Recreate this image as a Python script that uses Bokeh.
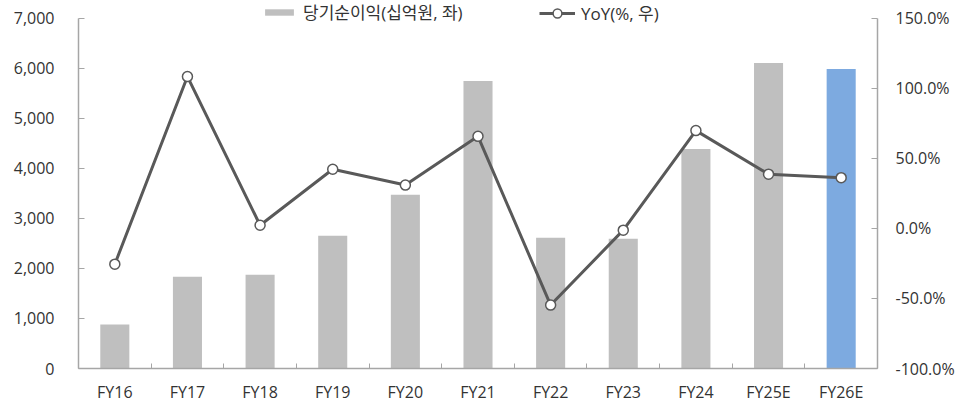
from bokeh.plotting import figure
from bokeh.models import (Range1d, LinearAxis, FixedTicker, NumeralTickFormatter,
                          PrintfTickFormatter, Legend, LegendItem, ColumnDataSource)
from bokeh.embed import file_html
from bokeh.resources import INLINE

categories = ["FY16", "FY17", "FY18", "FY19", "FY20", "FY21", "FY22", "FY23", "FY24", "FY25E", "FY26E"]
net_income = [878, 1836, 1876, 2655, 3473, 5750, 2615, 2595, 4391, 6108, 5988]
yoy = [-25.5, 108.5, 2.3, 42.3, 31.0, 65.8, -54.7, -1.2, 69.9, 38.8, 36.3]
bar_colors = ["#BFBFBF"] * 10 + ["#7DAAE0"]

left_min, left_max = 0, 7000
right_min, right_max = -100, 150

FONT = "'Open Sans', 'Noto Sans CJK KR', sans-serif"
FS = "16px"
TXT = "#333333"
AX = "#A6A6A6"

H = 405
BOTTOM = 36
TOP_GAP = 18  # pixels between frame top and axis top
frame_h = H - BOTTOM
scale = frame_h / (frame_h - TOP_GAP)

x = list(range(len(categories)))
src = ColumnDataSource(dict(x=x, v=net_income, y=yoy, c=bar_colors))

p = figure(width=960, height=H, output_backend="svg", toolbar_location=None,
           x_range=Range1d(-0.5, len(categories) - 0.5),
           y_range=Range1d(left_min, left_min + (left_max - left_min) * scale),
           min_border_left=78, min_border_right=83, min_border_top=0, min_border_bottom=BOTTOM)
p.outline_line_color = None
p.xgrid.visible = False
p.ygrid.visible = False
p.extra_y_ranges = {"yoy": Range1d(right_min, right_min + (right_max - right_min) * scale)}

bars = p.vbar(x="x", top="v", width=0.4, source=src, fill_color="c", line_color=None)
line = p.line(x="x", y="y", source=src, y_range_name="yoy", line_color="#595959", line_width=3)
marks = p.scatter(x="x", y="y", source=src, y_range_name="yoy", size=10,
                  fill_color="white", line_color="#595959", line_width=1.5)

# x axis
xa = p.xaxis[0]
xa.ticker = FixedTicker(ticks=x, minor_ticks=[i - 0.5 for i in range(len(categories) + 1)])
xa.major_label_overrides = {i: c for i, c in enumerate(categories)}
xa.major_tick_in = 0
xa.major_tick_out = 0
xa.minor_tick_in = 5
xa.minor_tick_out = 0
xa.minor_tick_line_color = AX
xa.axis_line_color = AX
xa.axis_line_width = 1.5
xa.major_label_standoff = 12
xa.major_label_text_font = FONT
xa.major_label_text_font_size = FS
xa.major_label_text_color = TXT

# left axis
ya = p.yaxis[0]
ya.ticker = FixedTicker(ticks=list(range(left_min, left_max + 1, 1000)))
ya.bounds = (left_min, left_max)
ya.formatter = NumeralTickFormatter(format="0,0")
ya.major_tick_in = 6
ya.major_tick_out = 0
ya.minor_tick_in = 0
ya.minor_tick_out = 0
ya.major_tick_line_color = AX
ya.axis_line_color = AX
ya.axis_line_width = 1.5
ya.major_label_standoff = 24
ya.major_label_text_font = FONT
ya.major_label_text_font_size = FS
ya.major_label_text_color = TXT

# right axis
ra = LinearAxis(y_range_name="yoy", ticker=FixedTicker(ticks=list(range(right_min, right_max + 1, 50))),
                formatter=PrintfTickFormatter(format="%.1f%%"), bounds=(right_min, right_max))
ra.major_tick_in = 6
ra.major_tick_out = 0
ra.minor_tick_in = 0
ra.minor_tick_out = 0
ra.major_tick_line_color = AX
ra.axis_line_color = AX
ra.axis_line_width = 1.5
ra.major_label_standoff = 18
ra.major_label_text_font = FONT
ra.major_label_text_font_size = FS
ra.major_label_text_color = TXT
p.add_layout(ra, "right")

common = dict(orientation="horizontal", background_fill_alpha=0, border_line_color=None,
              label_text_font=FONT, label_text_font_size="17px", label_text_color=TXT,
              glyph_width=36, padding=4, margin=0, label_standoff=6)
legend1 = Legend(items=[LegendItem(label="당기순이익(십억원, 좌)", renderers=[bars], index=0)],
                 location=(183, 344), glyph_height=8, **common)
legend2 = Legend(items=[LegendItem(label="YoY(%, 우)", renderers=[line, marks])],
                 location=(461, 343), glyph_height=22, **common)
p.add_layout(legend1, "center")
p.add_layout(legend2, "center")

open("out.html", "w").write(file_html(p, INLINE))
